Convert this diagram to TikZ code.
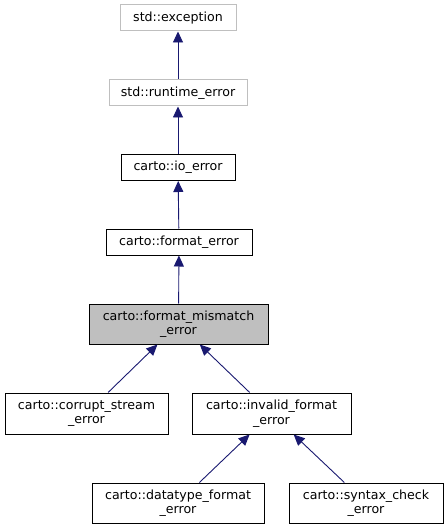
\documentclass[tikz,border=0pt]{standalone}
\usepackage{fontspec}
\setmainfont{DejaVu Sans}
\usetikzlibrary{arrows.meta}
\definecolor{edgeblue}{HTML}{191970}
\definecolor{boxgray}{HTML}{BFBFBF}
\begin{document}
\begin{tikzpicture}[x=1pt, y=-1pt,
    klass/.style ={rectangle, draw=black, line width=1pt, inner sep=0pt, align=center,
      font=\fontsize{12.6}{14.5}\selectfont, minimum height=26pt},
    external/.style ={klass, draw=boxgray},
    current/.style ={klass, fill=boxgray},
    inherit/.style ={draw=edgeblue, line width=0.9pt, {Triangle[length=11pt, width=10pt]}-}]
   \useasboundingbox (0,0) rectangle (447,529);
   \node[external, minimum width=116pt] (exception) at (178,18)  {std::exception};
   \node[external, minimum width=138pt] (runtime) at (178,93)  {std::runtime\_error};
   \node[klass, minimum width=114pt] (io) at (178,167.5)  {carto::io\_error};
   \node[klass, minimum width=146pt] (format) at (179,242)  {carto::format\_error};
   \node[current, minimum width=179pt, minimum height=40pt] (mismatch) at (178.5,324)  {carto::format\_mismatch\\\_error};
   \node[klass, minimum width=163pt, minimum height=41pt] (corrupt) at (86.5,413.5)  {carto::corrupt\_stream\\\_error};
   \node[klass, minimum width=159pt, minimum height=41pt] (invalid) at (271.5,413.5)  {carto::invalid\_format\\\_error};
   \node[klass, minimum width=172pt, minimum height=40pt] (datatype) at (178,503)  {carto::datatype\_format\\\_error};
   \node[klass, minimum width=154pt, minimum height=40pt] (syntax) at (366,503)  {carto::syntax\_check\\\_error};
   \draw[inherit] (exception) -- (runtime);
   \draw[inherit] (runtime) -- (io);
   \draw[inherit] (io) -- (format);
   \draw[inherit] (format) -- (mismatch);
   \draw[inherit] (mismatch) -- (corrupt);
   \draw[inherit] (mismatch) -- (invalid);
   \draw[inherit] (invalid) -- (datatype);
   \draw[inherit] (invalid) -- (syntax);
\end{tikzpicture}
\end{document}
